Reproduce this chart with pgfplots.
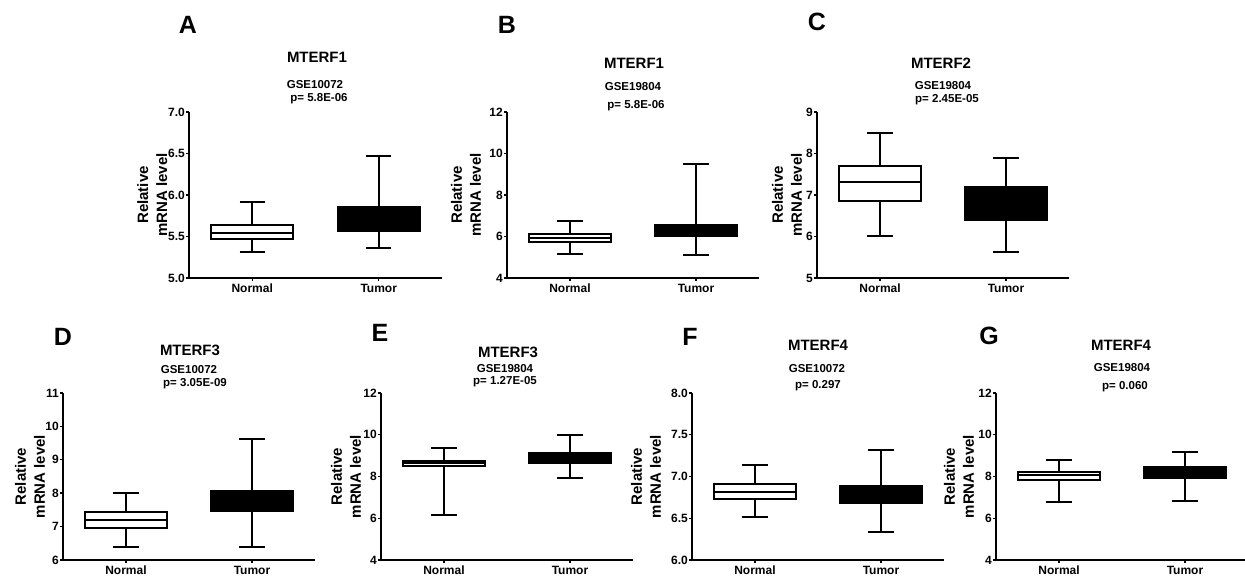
\documentclass[border=0pt]{standalone}
\usepackage{fontspec}
\setmainfont{Liberation Sans}
\usepackage{pgfplots}
\pgfplotsset{compat=1.18}
\usepgfplotslibrary{statistics}

\pgfplotsset{
  mybox/.style={
    scale only axis, width=252pt, height=166pt,
    axis lines*=left, axis line style={line width=2pt},
    xmin=0.5, xmax=2.5, xtick={1,2}, xticklabels={Normal,Tumor},
    tick align=outside, major tick length=3pt,
    tick style={line width=1.4pt, black},
    ticklabel style={font=\fontsize{12}{12}\selectfont\bfseries},
    xticklabel style={text height=9pt, text depth=0pt, inner sep=2pt},
    yticklabel style={inner sep=1pt},
    /pgf/number format/assume math mode=true,
    ylabel={Relative\\mRNA level},
    every axis y label/.style={rotate=90, anchor=center, align=center,
      font=\fontsize{15}{19}\selectfont\bfseries},
    clip=false,
  },
  onedec/.style={yticklabel style={/pgf/number format/.cd, fixed, fixed zerofill, precision=1}},
  nbox/.style={black, line width=2pt, fill=white, solid, mark=none,
    boxplot/draw direction=y, boxplot/box extend=0.65, boxplot/whisker extend=0.2},
  tbox/.style={black, line width=2pt, fill=black, solid, mark=none,
    boxplot/draw direction=y, boxplot/box extend=0.65, boxplot/whisker extend=0.2},
}
\newcommand{\panel}[1]{\fontsize{25}{25}\selectfont\bfseries #1}
\newcommand{\ttl}[1]{\fontsize{15}{15}\selectfont\bfseries #1}
\newcommand{\sub}[1]{\fontsize{11.5}{11.5}\selectfont\bfseries #1}

\begin{document}
\begin{tikzpicture}
\useasboundingbox (0,0) rectangle (1245pt,577pt);

% ---------------- A
\begin{axis}[mybox, onedec, at={(189pt,299pt)}, anchor=south west, width=253pt,
  ymin=5, ymax=7, ytick={5,5.5,6,6.5,7},
  every axis y label/.append style={at={(axis description cs:-0.145,0.5)}}]
\addplot[nbox, boxplot prepared={lower whisker=5.313, lower quartile=5.466, median=5.546, upper quartile=5.635, upper whisker=5.916, draw position=1}] coordinates {};
\addplot[tbox, boxplot prepared={lower whisker=5.36, lower quartile=5.57, median=5.72, upper quartile=5.86, upper whisker=6.47, draw position=2}] coordinates {};
\end{axis}
\node at (188pt,552pt) {\panel{A}};
\node at (317pt,520pt) {\ttl{MTERF1}};
\node at (315pt,492pt) {\sub{GSE10072}};
\node at (319pt,478pt) {\sub{p= 5.8E-06}};

% ---------------- B
\begin{axis}[mybox, at={(507pt,299pt)}, anchor=south west,
  ymin=4, ymax=12, ytick={4,6,8,10,12},
  every axis y label/.append style={at={(axis description cs:-0.163,0.5)}}]
\addplot[nbox, boxplot prepared={lower whisker=5.17, lower quartile=5.73, median=5.94, upper quartile=6.14, upper whisker=6.75, draw position=1}] coordinates {};
\addplot[tbox, boxplot prepared={lower whisker=5.09, lower quartile=6.01, median=6.3, upper quartile=6.57, upper whisker=9.51, draw position=2}] coordinates {};
\end{axis}
\node at (507pt,552pt) {\panel{B}};
\node at (634pt,514pt) {\ttl{MTERF1}};
\node at (633pt,490pt) {\sub{GSE19804}};
\node at (636pt,471pt) {\sub{p= 5.8E-06}};

% ---------------- C
\begin{axis}[mybox, at={(817pt,299pt)}, anchor=south west,
  ymin=5, ymax=9, ytick={5,6,7,8,9},
  every axis y label/.append style={at={(axis description cs:-0.119,0.5)}}]
\addplot[nbox, boxplot prepared={lower whisker=6.0, lower quartile=6.85, median=7.31, upper quartile=7.69, upper whisker=8.49, draw position=1}] coordinates {};
\addplot[tbox, boxplot prepared={lower whisker=5.63, lower quartile=6.39, median=6.8, upper quartile=7.19, upper whisker=7.89, draw position=2}] coordinates {};
\end{axis}
\node at (817pt,555pt) {\panel{C}};
\node at (941pt,514pt) {\ttl{MTERF2}};
\node at (943pt,491pt) {\sub{GSE19804}};
\node at (947pt,477pt) {\sub{p= 2.45E-05}};

% ---------------- D
\begin{axis}[mybox, at={(63pt,17pt)}, anchor=south west, height=167pt,
  ymin=6, ymax=11, ytick={6,7,8,9,10,11},
  every axis y label/.append style={at={(axis description cs:-0.131,0.5)}}]
\addplot[nbox, boxplot prepared={lower whisker=6.38, lower quartile=6.96, median=7.21, upper quartile=7.44, upper whisker=8.02, draw position=1}] coordinates {};
\addplot[tbox, boxplot prepared={lower whisker=6.38, lower quartile=7.48, median=7.8, upper quartile=8.08, upper whisker=9.62, draw position=2}] coordinates {};
\end{axis}
\node at (63pt,240pt) {\panel{D}};
\node at (190pt,227pt) {\ttl{MTERF3}};
\node at (189pt,207pt) {\sub{GSE10072}};
\node at (195pt,193pt) {\sub{p= 3.05E-09}};

% ---------------- E
\begin{axis}[mybox, at={(381pt,17pt)}, anchor=south west, height=167pt,
  ymin=4, ymax=12, ytick={4,6,8,10,12},
  every axis y label/.append style={at={(axis description cs:-0.139,0.5)}}]
\addplot[nbox, boxplot prepared={lower whisker=6.14, lower quartile=8.48, median=8.64, upper quartile=8.75, upper whisker=9.36, draw position=1}] coordinates {};
\addplot[tbox, boxplot prepared={lower whisker=7.94, lower quartile=8.64, median=8.9, upper quartile=9.13, upper whisker=9.98, draw position=2}] coordinates {};
\end{axis}
\node at (380pt,244pt) {\panel{E}};
\node at (508pt,225pt) {\ttl{MTERF3}};
\node at (505pt,208pt) {\sub{GSE19804}};
\node at (505pt,195pt) {\sub{p= 1.27E-05}};

% ---------------- F
\begin{axis}[mybox, onedec, at={(692pt,17pt)}, anchor=south west, height=167pt,
  ymin=6, ymax=8, ytick={6,6.5,7,7.5,8},
  every axis y label/.append style={at={(axis description cs:-0.183,0.5)}}]
\addplot[nbox, boxplot prepared={lower whisker=6.52, lower quartile=6.73, median=6.82, upper quartile=6.91, upper whisker=7.14, draw position=1}] coordinates {};
\addplot[tbox, boxplot prepared={lower whisker=6.33, lower quartile=6.68, median=6.78, upper quartile=6.89, upper whisker=7.32, draw position=2}] coordinates {};
\end{axis}
\node at (690pt,240pt) {\panel{F}};
\node at (818pt,232pt) {\ttl{MTERF4}};
\node at (817pt,208pt) {\sub{GSE10072}};
\node at (818pt,191pt) {\sub{p= 0.297}};

% ---------------- G
\begin{axis}[mybox, at={(996pt,17pt)}, anchor=south west, height=167pt,
  ymin=4, ymax=12, ytick={4,6,8,10,12},
  every axis y label/.append style={at={(axis description cs:-0.147,0.5)}}]
\addplot[nbox, boxplot prepared={lower whisker=6.77, lower quartile=7.84, median=8.05, upper quartile=8.21, upper whisker=8.8, draw position=1}] coordinates {};
\addplot[tbox, boxplot prepared={lower whisker=6.85, lower quartile=7.94, median=8.2, upper quartile=8.45, upper whisker=9.18, draw position=2}] coordinates {};
\end{axis}
\node at (989pt,241pt) {\panel{G}};
\node at (1121pt,232pt) {\ttl{MTERF4}};
\node at (1122pt,209pt) {\sub{GSE19804}};
\node at (1125pt,190pt) {\sub{p= 0.060}};
\end{tikzpicture}
\end{document}
